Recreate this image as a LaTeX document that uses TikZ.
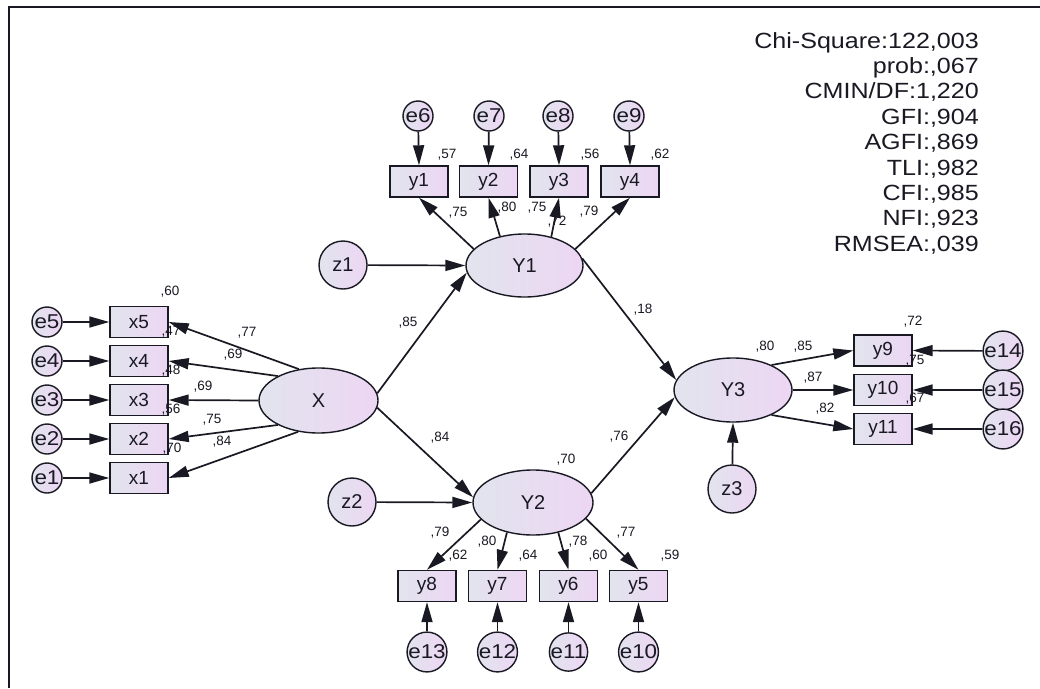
\documentclass[tikz,border=0pt]{standalone}
\usepackage{fontspec}
\setmainfont{Liberation Sans}
\newfontfamily\statfont[FakeStretch=1.14]{Liberation Sans}
\newfontfamily\errfont[FakeStretch=1.12]{Liberation Sans}
\usetikzlibrary{arrows.meta,shapes.geometric}
\definecolor{cl}{RGB}{226,228,238}
\definecolor{cr}{RGB}{237,214,243}
\definecolor{ink}{RGB}{25,25,35}
\begin{document}
\begin{tikzpicture}[x=1pt,y=-1pt,
  every node/.style={inner sep=0pt, text=ink},
  obs/.style={draw=ink, line width=1.4pt, left color=cl, right color=cr, minimum width=58pt, minimum height=31pt, font=\fontsize{19}{19}\selectfont},
  lat/.style={draw=ink, ellipse, line width=1.4pt, left color=cl, right color=cr, font=\fontsize{20}{20}\selectfont},
  err/.style={draw=ink, circle, line width=1.4pt, left color=cl, right color=cr, minimum size=30pt, font=\errfont\fontsize{20}{20}\selectfont},
  dist/.style={err, minimum size=48pt, font=\fontsize{20}{20}\selectfont},
  est/.style={font=\fontsize{13.5}{13.5}\selectfont},
  stat/.style={anchor=base east, font=\statfont\fontsize{22}{22}\selectfont},
  arr/.style={line width=1.7pt, draw=ink, -{Triangle[length=20pt,width=11pt]}},
]
\fill[white] (0,0) rectangle (1040,688);
\useasboundingbox (0,0) rectangle (1040,688);
\draw[line width=2pt, ink] (8.5,688) -- (8.5,6.5) -- (1040,6.5);

% latent
\node[lat, minimum width=119pt, minimum height=65pt] (X) at (318.5,400.5) {X};
\node[lat, minimum width=117pt, minimum height=63pt] (Y1) at (524.5,265.5) {Y1};
\node[lat, minimum width=120pt, minimum height=65pt] (Y2) at (533,502.5) {Y2};
\node[lat, minimum width=118pt, minimum height=64pt] (Y3) at (733,390) {Y3};

% x indicators
\node[obs] (x5) at (139,322) {x5};
\node[obs] (x4) at (139,361) {x4};
\node[obs] (x3) at (139,400) {x3};
\node[obs] (x2) at (139,439) {x2};
\node[obs] (x1) at (139,478) {x1};
\node[err] (e5) at (47,322) {e5};
\node[err] (e4) at (47,361) {e4};
\node[err] (e3) at (47,400) {e3};
\node[err] (e2) at (47,439) {e2};
\node[err] (e1) at (47,478) {e1};

% y1-y4
\node[obs] (y1) at (419,181.5) {y1};
\node[obs] (y2) at (488.5,181.5) {y2};
\node[obs] (y3) at (559,181.5) {y3};
\node[obs] (y4) at (630,181.5) {y4};
\node[err] (e6) at (418,116) {e6};
\node[err] (e7) at (489,116) {e7};
\node[err] (e8) at (558,116) {e8};
\node[err] (e9) at (629,116) {e9};

% y5-y8
\node[obs] (y8) at (427,586) {y8};
\node[obs] (y7) at (497.5,586) {y7};
\node[obs] (y6) at (568.5,586) {y6};
\node[obs] (y5) at (638.5,586) {y5};
\node[err] (e13) at (427,652) {e13};
\node[err] (e12) at (497.5,652) {e12};
\node[err] (e11) at (568.5,652) {e11};
\node[err] (e10) at (638.5,652) {e10};

% y9-y11
\node[obs] (y9) at (883,350.5) {y9};
\node[obs] (y10) at (883,390) {y10};
\node[obs] (y11) at (883,429) {y11};
\node[err] (e14) at (1003,351) {e14};
\node[err] (e15) at (1003,390) {e15};
\node[err] (e16) at (1003,429) {e16};

% disturbances
\node[dist] (z1) at (343,265) {z1};
\node[dist] (z2) at (352,502) {z2};
\node[dist] (z3) at (732,489) {z3};

% arrows
\foreach \i in {1,...,5} \draw[arr] (e\i) -- (x\i.west);
\draw[arr] (X.122) -- (x5.east);
\draw[arr] (X.149) -- (x4.east);
\draw[arr] (X.180) -- (x3.east);
\draw[arr] (X.211) -- (x2.east);
\draw[arr] (X.237) -- (x1.east);

\draw[arr] (e6) -- (y1.north);
\draw[arr] (e7) -- (y2.north);
\draw[arr] (e8) -- (y3.north);
\draw[arr] (e9) -- (y4.north);
\draw[arr] (Y1.162) -- (y1.south);
\draw[arr] (Y1.130) -- (y2.south);
\draw[arr] (Y1.47) -- (y3.south);
\draw[arr] (Y1.18) -- (y4.south);

\draw[arr] (e13) -- (y8.south);
\draw[arr] (e12) -- (y7.south);
\draw[arr] (e11) -- (y6.south);
\draw[arr] (e10) -- (y5.south);
\draw[arr] (Y2.198) -- (y8.north);
\draw[arr] (Y2.229.5) -- (y7.north);
\draw[arr] (Y2.310.5) -- (y6.north);
\draw[arr] (Y2.343) -- (y5.north);

\draw[arr] (e14) -- (y9.east);
\draw[arr] (e15) -- (y10.east);
\draw[arr] (e16) -- (y11.east);
\draw[arr] (Y3.33) -- (y9.west);
\draw[arr] (Y3.east) -- (y10.west);
\draw[arr] (Y3.-33) -- (y11.west);

\draw[arr] (z1) -- (Y1.west);
\draw[arr] (z2) -- (Y2.west);
\draw[arr] (z3) -- (Y3.south);
\draw[arr] (X.7) -- (Y1.187);
\draw[arr] (X.-7) -- (Y2.175);
\draw[arr] (Y1.7) -- (Y3.170);
\draw[arr] (Y2.9) -- (Y3.187);

% estimates
\node[est] (l1) at (170,292) {,60};
\node[est] (l2) at (171,332) {,47};
\node[est] (l3) at (171,371) {,48};
\node[est] (l4) at (171,410) {,56};
\node[est] (l5) at (172,449) {,70};
\node[est] (l6) at (247,333) {,77};
\node[est] (l7) at (233,355) {,69};
\node[est] (l8) at (203,387) {,69};
\node[est] (l9) at (212,420) {,75};
\node[est] (l10) at (222,442) {,84};
\node[est] (l11) at (447,155) {,57};
\node[est] (l12) at (519,155) {,64};
\node[est] (l13) at (590,155) {,56};
\node[est] (l14) at (660,155) {,62};
\node[est] (l15) at (458,213) {,75};
\node[est] (l16) at (507,208) {,80};
\node[est] (l17) at (537,208) {,75};
\node[est] (l18) at (557,222) {,72};
\node[est] (l19) at (589,212) {,79};
\node[est] (l20) at (408,323) {,85};
\node[est] (l21) at (440,438) {,84};
\node[est] (l22) at (643,310) {,18};
\node[est] (l23) at (619,437) {,76};
\node[est] (l24) at (566,460) {,70};
\node[est] (l25) at (440,533) {,79};
\node[est] (l26) at (458,556) {,62};
\node[est] (l27) at (487,542) {,80};
\node[est] (l28) at (528,556) {,64};
\node[est] (l29) at (578,542) {,78};
\node[est] (l30) at (598,556) {,60};
\node[est] (l31) at (626,533) {,77};
\node[est] (l32) at (670,556) {,59};
\node[est] (l33) at (765,347) {,80};
\node[est] (l34) at (803,347) {,85};
\node[est] (l35) at (913,322) {,72};
\node[est] (l36) at (915,361) {,75};
\node[est] (l37) at (813,378) {,87};
\node[est] (l38) at (915,399) {,67};
\node[est] (l39) at (825,409) {,82};

% fit statistics
\node[stat] (s1) at (979,48) {Chi-Square:122,003};
\node[stat] (s2) at (979,73.4) {prob:,067};
\node[stat] (s3) at (979,98.8) {CMIN/DF:1,220};
\node[stat] (s4) at (979,124.2) {GFI:,904};
\node[stat] (s5) at (979,149.6) {AGFI:,869};
\node[stat] (s6) at (979,175) {TLI:,982};
\node[stat] (s7) at (979,200.4) {CFI:,985};
\node[stat] (s8) at (979,225.8) {NFI:,923};
\node[stat] (s9) at (979,251.2) {RMSEA:,039};
\end{tikzpicture}
\end{document}
